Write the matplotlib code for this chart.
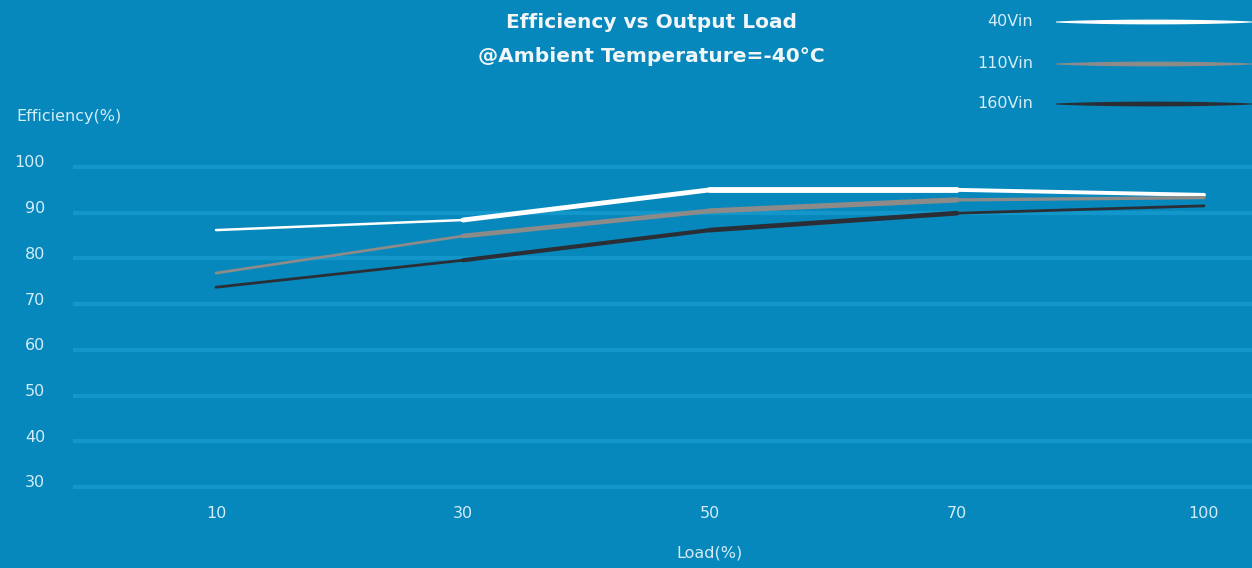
import numpy as np
import matplotlib
matplotlib.use("Agg")
import matplotlib.pyplot as plt
from matplotlib.collections import LineCollection
from matplotlib.patches import Polygon
from matplotlib.transforms import ScaledTranslation

# data
load_labels = ["10", "30", "50", "70", "100"]
eff_40vin = [86.2, 88.4, 95.0, 95.0, 93.9]
eff_110vin = [76.8, 84.9, 90.4, 92.8, 93.3]
eff_160vin = [73.7, 79.6, 86.2, 89.9, 91.5]
series_names = ["40Vin", "110Vin", "160Vin"]
y_ticks = [30, 40, 50, 60, 70, 80, 90, 100]

bg = "#0688bc"
grid_col = "#1ea2d4"
text_col = "#d3ecf8"
colors = ["#ffffff", "#8d8b89", "#2b2f35"]
# widths per segment, to mimic the tapered strokes
seg_widths = [
    [1.8, 3.5, 4.2, 2.8],
    [2.0, 3.4, 3.8, 2.4],
    [2.0, 3.0, 3.4, 2.0],
]

plt.rcParams["font.family"] = ["DejaVu Sans"]

W, H = 1252, 568
fig = plt.figure(figsize=(W / 100, H / 100), dpi=100)
fig.patch.set_facecolor(bg)

# axes placed in pixel terms
left, right, top, bottom = 73, 1252, 150, 500
ax = fig.add_axes([left / W, 1 - bottom / H, (right - left) / W, (bottom - top) / H])
ax.set_facecolor(bg)

x = np.arange(len(load_labels))
# x pixel = 216 + 247*i
ax.set_xlim((left - 216) / 247, (right - 216) / 247)
# y pixel: 100 -> 167, 30 -> 487
ppu = (487 - 167) / 70
ax.set_ylim(30 - (bottom - 487) / ppu, 100 + (167 - top) / ppu)

for yt in y_ticks:
    ax.axhline(yt, color=grid_col, lw=3, alpha=0.55, zorder=1)

for vals, col, ws in zip([eff_40vin, eff_110vin, eff_160vin], colors, seg_widths):
    pts = np.column_stack([x, vals])
    segs = [pts[i:i + 2] for i in range(len(pts) - 1)]
    lc = LineCollection(segs, colors=col, linewidths=ws, capstyle="round",
                        joinstyle="round", zorder=3)
    ax.add_collection(lc)

ax.set_xticks(x)
ax.set_xticklabels(load_labels)
ax.set_yticks(y_ticks)
ax.set_yticklabels([str(v) for v in y_ticks])
ax.tick_params(axis="both", length=0, colors=text_col, labelsize=11.5)
ax.tick_params(axis="y", pad=20)
ax.tick_params(axis="x", pad=4)
for lab in ax.get_yticklabels():
    lab.set_transform(lab.get_transform() + ScaledTranslation(0, 4 / 72, fig.dpi_scale_trans))
for s in ax.spines.values():
    s.set_visible(False)

fig.text(16 / W, 1 - 117 / H, "Efficiency(%)", color=text_col, fontsize=11.5,
         ha="left", va="center")
fig.text(710 / W, 1 - 553 / H, "Load(%)", color=text_col, fontsize=11.5,
         ha="center", va="center")

fig.text(651 / W, 1 - 23 / H, "Efficiency vs Output Load", color="#f2f6f9",
         fontsize=14.5, fontweight="bold", ha="center", va="center")
fig.text(651 / W, 1 - 56 / H, "@Ambient Temperature=-40°C", color="#f2f6f9",
         fontsize=14.5, fontweight="bold", ha="center", va="center")

# legend drawn by hand: a thin lens shape for each stroke
leg_y = [22, 64, 104]
px = np.linspace(1056, 1252, 80)
half = 2.4 * np.sin(np.pi * np.linspace(0.02, 0.98, px.size)) ** 0.6
for name, col, ly in zip(series_names, colors, leg_y):
    fig.text(1033 / W, 1 - ly / H, name, color=text_col, fontsize=11.5,
             ha="right", va="center")
    upper = np.column_stack([px / W, 1 - (ly - half) / H])
    lower = np.column_stack([px[::-1] / W, 1 - (ly + half[::-1]) / H])
    poly = Polygon(np.vstack([upper, lower]), closed=True, facecolor=col,
                   edgecolor="none", transform=fig.transFigure)
    fig.add_artist(poly)

fig.savefig("out.png", dpi=100, facecolor=bg)
